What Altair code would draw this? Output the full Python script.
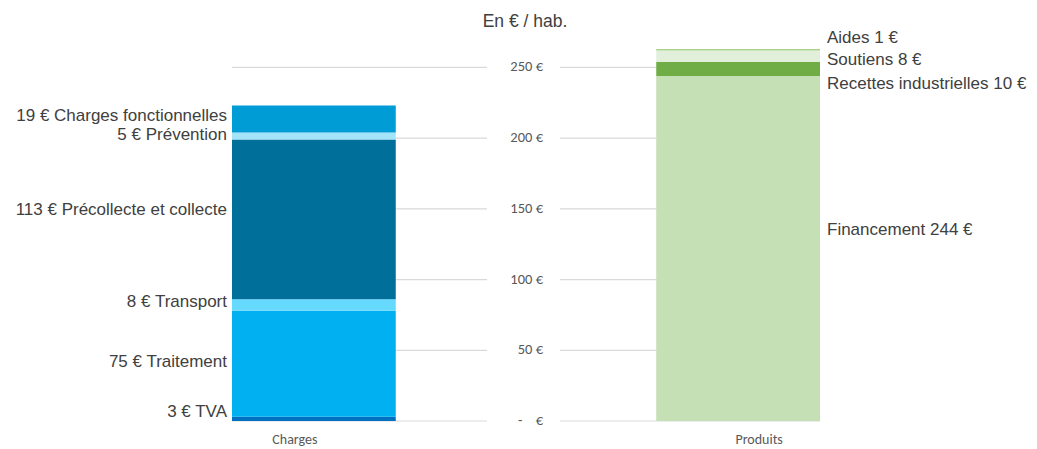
import altair as alt
import pandas as pd

# ---- data ----
bar_names = ["Charges", "Produits"]

charges_items = ["TVA", "Traitement", "Transport", "Précollecte et collecte",
                 "Prévention", "Charges fonctionnelles"]
charges_values = [3, 75, 8, 113, 5, 19]

produits_items = ["Financement", "Recettes industrielles", "Soutiens", "Aides"]
produits_values = [244, 10, 8, 1]

tick_values = [0, 50, 100, 150, 200, 250]
tick_labels = ["-\u00a0\u00a0\u00a0\u00a0€", "50 €", "100 €", "150 €", "200 €", "250 €"]

unit_label = "En € / hab."

# ---- styles ----
colors = {
    "TVA": "#0070C0",
    "Traitement": "#00B0F0",
    "Transport": "#66D9FF",
    "Précollecte et collecte": "#006F99",
    "Prévention": "#A3E4F8",
    "Charges fonctionnelles": "#009CD6",
    "Financement": "#C5E0B4",
    "Recettes industrielles": "#70AD47",
    "Soutiens": "#E2EFDA",
    "Aides": "#A9D18E",
}
# pixel nudges of the data labels (label layout, not data)
nudges = {
    "TVA": -7, "Traitement": -2, "Transport": -3, "Précollecte et collecte": -9,
    "Prévention": -1, "Charges fonctionnelles": -3,
    "Financement": -18, "Recettes industrielles": 15, "Soutiens": 4, "Aides": -12,
}

W, H = 588, 396
BIG = "Liberation Sans Narrow, Arial Narrow, Liberation Sans, Arial, sans-serif"
SMALL = "Carlito, Calibri, Lato, sans-serif"
TXT = "#404040"
AXC = "#595959"

rows = []
for i, (n, v) in enumerate(zip(charges_items, charges_values)):
    rows.append({"bar": "Charges", "item": n, "value": v, "ord": i,
                 "label": f"{v} € {n}"})
for i, (n, v) in enumerate(zip(produits_items, produits_values)):
    rows.append({"bar": "Produits", "item": n, "value": v, "ord": i,
                 "label": f"{n} {v} €"})
df = pd.DataFrame(rows)

ticks = pd.DataFrame({"v": tick_values, "t": tick_labels})

yscale = alt.Scale(domain=[0, 280], nice=False, zero=True)
xscale = alt.Scale(domain=bar_names, paddingInner=0.614, paddingOuter=0)

grid = alt.Chart(ticks).mark_rule(color="#D9D9D9", strokeWidth=1.2).encode(
    y=alt.Y("v:Q", scale=yscale, axis=None),
    x=alt.value(0), x2=alt.value(W),
)

gap = alt.Chart(ticks).mark_rect(color="white").encode(
    x=alt.value(255), x2=alt.value(328), y=alt.value(0), y2=alt.value(H + 2),
)

tick_text = alt.Chart(ticks).mark_text(
    align="right", baseline="middle", font=SMALL, fontSize=14.5, color=AXC
).encode(
    y=alt.Y("v:Q", scale=yscale, axis=None),
    x=alt.value(311),
    text="t:N",
)

base = alt.Chart(df).transform_stack(
    stack="value", groupby=["bar"], as_=["y0", "y1"],
    sort=[alt.SortField("ord", order="ascending")],
).transform_calculate(mid="(datum.y0 + datum.y1) / 2")

bars = base.mark_bar().encode(
    x=alt.X("bar:N", scale=xscale, title=None,
            axis=alt.Axis(labelAngle=0, ticks=False, domain=False,
                          labelFont=SMALL, labelFontSize=14, labelColor=AXC,
                          labelPadding=11,
                          labelOffset={"condition": {"test": "datum.value == 'Charges'",
                                                     "value": -19},
                                       "value": 21})),
    y=alt.Y("y0:Q", scale=yscale, axis=None),
    y2="y1:Q",
    color=alt.Color("item:N", scale=alt.Scale(domain=list(colors.keys()),
                                              range=list(colors.values())),
                    legend=None),
)

label_layers = []
for n in charges_items + produits_items:
    is_left = n in charges_items
    label_layers.append(
        base.transform_filter(alt.datum.item == n).mark_text(
            align="right" if is_left else "left", baseline="middle",
            font=BIG, fontSize=17, color=TXT, dy=nudges[n],
        ).encode(
            x=alt.value(-5 if is_left else 595),
            y=alt.Y("mid:Q", scale=yscale, axis=None),
            text="label:N",
        )
    )

unit = alt.Chart(pd.DataFrame({"t": [unit_label]})).mark_text(
    align="center", baseline="middle", font=BIG, fontSize=17.5, color=TXT
).encode(x=alt.value(293), y=alt.value(-3), text="t:N")

chart = alt.layer(grid, gap, tick_text, bars, *label_layers, unit).properties(
    width=W, height=H,
    autosize=alt.AutoSizeParams(type="none"),
    padding={"left": 224, "top": 17, "right": 209, "bottom": 26},
).configure_view(stroke=None)

chart.save("out.html", embed_options={"renderer": "svg", "actions": False})
